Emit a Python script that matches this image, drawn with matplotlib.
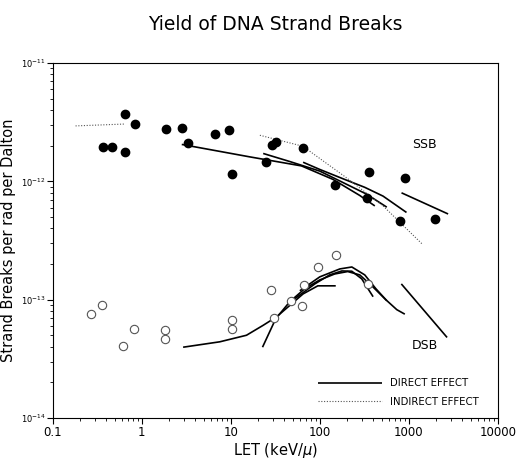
import numpy as np
import matplotlib
matplotlib.use("Agg")
import matplotlib.pyplot as plt

# ---- data ----
ssb_x = [0.37, 0.46, 0.65, 0.84, 0.65, 1.86, 2.81, 3.29, 6.6, 9.5, 10.4,
         24.9, 28.9, 32, 64.4, 147, 355, 343, 895, 798, 1995]
ssb_y = [1.96e-12, 1.96e-12, 3.7e-12, 3.05e-12, 1.78e-12, 2.79e-12, 2.84e-12,
         2.10e-12, 2.52e-12, 2.74e-12, 1.15e-12, 1.46e-12, 2.02e-12, 2.17e-12,
         1.91e-12, 9.4e-13, 1.19e-12, 7.3e-13, 1.06e-12, 4.64e-13, 4.77e-13]

dsb_x = [0.27, 0.36, 0.81, 0.62, 1.8, 1.8, 10.2, 10.2, 28.1, 30.7, 46.9,
         62.8, 66.6, 95.7, 152, 349]
dsb_y = [7.6e-14, 9.1e-14, 5.7e-14, 4.1e-14, 5.5e-14, 4.7e-14, 6.7e-14,
         5.7e-14, 1.21e-13, 7.0e-14, 9.7e-14, 8.9e-14, 1.34e-13, 1.88e-13,
         2.40e-13, 1.35e-13]

# SSB direct-effect curves
ssbA_x = [2.81, 16.3, 62.3, 140, 281, 415]
ssbA_y = [2.05e-12, 1.61e-12, 1.35e-12, 1.04e-12, 7.6e-13, 6.2e-13]
ssbB_x = [23.1, 46, 100, 191, 335, 566]
ssbB_y = [1.72e-12, 1.47e-12, 1.22e-12, 9.6e-13, 7.8e-13, 6.05e-13]
ssbC_x = [64.9, 100, 183, 320, 514, 942]
ssbC_y = [1.45e-12, 1.26e-12, 1.05e-12, 8.9e-13, 7.5e-13, 5.46e-13]
ssbD_x = [828, 2765]
ssbD_y = [8.0e-13, 5.3e-13]

# SSB indirect-effect curves
ssbI1_x = [0.18, 0.65]
ssbI1_y = [2.94e-12, 3.05e-12]
ssbI2_x = [21.2, 64.4, 200, 514, 1410]
ssbI2_y = [2.45e-12, 1.98e-12, 1.07e-12, 6.2e-13, 2.96e-13]

# DSB direct-effect curves
dsbE_x = [2.91, 7.52, 15.0, 23.1, 32.6, 46, 64.9, 95, 151]
dsbE_y = [3.97e-14, 4.41e-14, 5.01e-14, 6.08e-14, 7.16e-14, 8.95e-14,
          1.12e-13, 1.31e-13, 1.31e-13]
dsbF_x = [22.7, 32, 46, 67.8, 100, 147, 206, 281, 384, 552, 733, 902]
dsbF_y = [3.97e-14, 6.92e-14, 9.62e-14, 1.24e-13, 1.47e-13, 1.65e-13,
          1.73e-13, 1.62e-13, 1.31e-13, 1.0e-13, 8.24e-14, 7.55e-14]
dsbH_x = [52.4, 87.9, 129, 177, 229, 296, 397]
dsbH_y = [1.02e-13, 1.36e-13, 1.62e-13, 1.75e-13, 1.74e-13, 1.5e-13, 1.06e-13]
dsbI_x = [59.6, 100, 168, 229, 320, 426, 566]
dsbI_y = [1.19e-13, 1.56e-13, 1.82e-13, 1.89e-13, 1.62e-13, 1.24e-13, 9.8e-14]
dsbG_x = [824, 2692]
dsbG_y = [1.36e-13, 4.8e-14]

x_ticks = [0.1, 1, 10, 100, 1000, 10000]
x_ticklabels = ["0.1", "1", "10", "100", "1000", "10000"]
y_ticks = [1e-14, 1e-13, 1e-12, 1e-11]
y_ticklabels = [r"10$^{-14}$", r"10$^{-13}$", r"10$^{-12}$", r"10$^{-11}$"]

fig = plt.figure(figsize=(5.18, 4.63), dpi=100)
ax = fig.add_axes([0.102, 0.097, 0.859, 0.767])

solid_kw = dict(color="black", lw=1.2, solid_capstyle="butt")
dot_kw = dict(color="#555555", lw=0.8, linestyle=(0, (1, 1.5)))

for xs, ys in [(ssbA_x, ssbA_y), (ssbB_x, ssbB_y), (ssbC_x, ssbC_y),
               (ssbD_x, ssbD_y), (dsbE_x, dsbE_y), (dsbF_x, dsbF_y),
               (dsbH_x, dsbH_y), (dsbI_x, dsbI_y), (dsbG_x, dsbG_y)]:
    ax.plot(xs, ys, **solid_kw)
for xs, ys in [(ssbI1_x, ssbI1_y), (ssbI2_x, ssbI2_y)]:
    ax.plot(xs, ys, **dot_kw)

ax.plot(ssb_x, ssb_y, "o", color="black", ms=6, ls="none")
ax.plot(dsb_x, dsb_y, "o", mfc="white", mec="#555555", mew=0.8, ms=6, ls="none")

ax.set_xscale("log")
ax.set_yscale("log")
ax.set_xlim(0.1, 10000)
ax.set_ylim(1e-14, 1e-11)
ax.set_xticks(x_ticks)
ax.set_xticklabels(x_ticklabels)
ax.set_yticks(y_ticks)
ax.set_yticklabels(y_ticklabels)
ax.tick_params(axis="x", labelsize=8.5, pad=2)
ax.tick_params(axis="y", labelsize=6, pad=1)
ax.tick_params(which="major", length=4)
ax.tick_params(which="minor", length=2)

ax.text(1514, 2.05e-12, "SSB", fontsize=9, ha="center", va="center")
ax.text(1514, 4.1e-14, "DSB", fontsize=9, ha="center", va="center")

h1, = ax.plot([], [], **solid_kw)
h2, = ax.plot([], [], **dot_kw)
ax.legend([h1, h2], ["DIRECT EFFECT", "INDIRECT EFFECT"], loc="upper left",
          bbox_to_anchor=(0.5955, 0.112), frameon=False, fontsize=7.3,
          handlelength=6.3, handletextpad=0.8, labelspacing=0.85,
          borderpad=0, borderaxespad=0)

ax.set_title("Yield of DNA Strand Breaks", fontsize=13.5, pad=24)
ax.set_xlabel(r"LET (keV/$\mu$)", fontsize=10.5, labelpad=1)
ax.set_ylabel("Strand Breaks per rad per Dalton", fontsize=10.5)
ax.yaxis.set_label_coords(-0.082, 0.5)

fig.savefig("out.png", dpi=100)
